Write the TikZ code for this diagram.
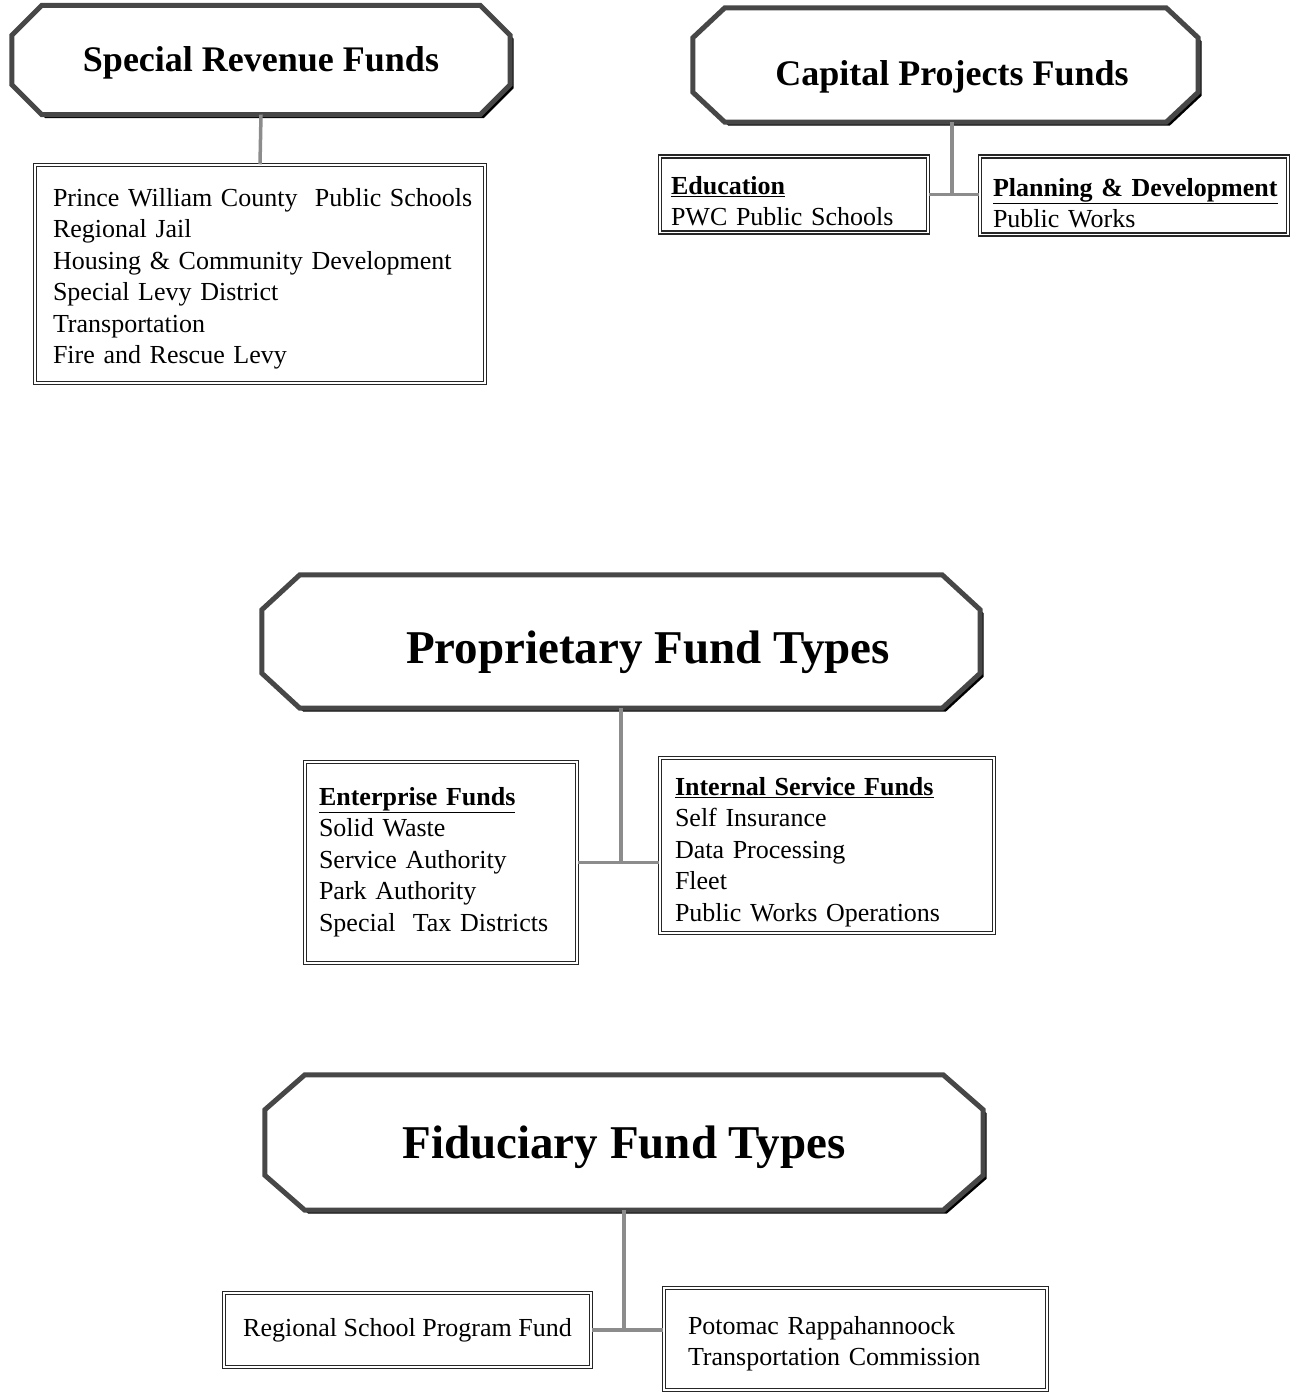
\documentclass[tikz,border=0pt]{standalone}
\usepackage{fontspec}
\setmainfont{Liberation Serif}
\usetikzlibrary{calc,backgrounds}
\newcommand\drawocto[3]{%
 \begin{scope}[on background layer]
  \fill[black,transform canvas={shift={(3.5pt,-3.5pt)}}]
   ($(#1.north west)+(#2,0)$) -- ($(#1.north east)+(-#2,0)$) -- ($(#1.north east)+(0,#3)$) -- ($(#1.south east)+(0,-#3)$) -- ($(#1.south east)+(-#2,0)$) -- ($(#1.south west)+(#2,0)$) -- ($(#1.south west)+(0,-#3)$) -- ($(#1.north west)+(0,#3)$) -- cycle;
  \draw[octline]
   ($(#1.north west)+(#2,0)$) -- ($(#1.north east)+(-#2,0)$) -- ($(#1.north east)+(0,#3)$) -- ($(#1.south east)+(0,-#3)$) -- ($(#1.south east)+(-#2,0)$) -- ($(#1.south west)+(#2,0)$) -- ($(#1.south west)+(0,-#3)$) -- ($(#1.north west)+(0,#3)$) -- cycle;
 \end{scope}}
\tikzset{
 octline/.style={draw=black!72, line width=5pt, fill=white, line join=miter},
 titlenode/.style={inner sep=0pt, font=\fontsize{36}{40}\selectfont\bfseries, text depth=0pt},
 bigtitle/.style={inner sep=0pt, font=\fontsize{47}{52}\selectfont\bfseries, text depth=0pt},
 fundbox/.style={draw=black!85, line width=1.5pt, double=white, double distance=1.2pt,
   align=left, inner ysep=0pt, font=\fontsize{26}{31.5}\selectfont},
 conn/.style={draw=black!45, line width=3.5pt},
}
\begin{document}
\begin{tikzpicture}[x=1pt,y=-1pt]
\useasboundingbox (0,0) rectangle (1290,1393);

% Special Revenue Funds
\node[titlenode, text height=22pt, minimum width=498pt, minimum height=109pt] (srf) at (261,60) {Special Revenue Funds};
\drawocto{srf}{30}{30}
\node[fundbox, minimum height=218pt, inner xsep=18pt, text width=414pt, text height=28.5pt, text depth=164.5pt] (srb) at (260,274)
 {\mbox{Prince William County\ \ Public Schools}\\Regional Jail\\Housing \& Community Development\\Special Levy District\\Transportation\\Fire and Rescue Levy};
\draw[conn] (srf.south) -- (srb.north);

% Capital Projects Funds
\node[titlenode, text height=40pt, minimum width=505pt, minimum height=114pt] (cpf) at (945.5,65) {\hspace*{13pt}Capital Projects Funds};
\drawocto{cpf}{32}{30}
\node[fundbox, minimum height=75pt, inner xsep=11pt, text width=246pt, text height=37.5pt, text depth=38.5pt] (edu) at (794,194.5)
 {\underline{\textbf{Education}}\\PWC Public Schools};
\node[fundbox, minimum height=75pt, inner xsep=13pt, text width=282pt, text height=39.5pt, text depth=38.5pt] (plan) at (1134,195.5)
 {\mbox{\underline{\textbf{Planning \& Development}}}\\Public Works};
\draw[conn] ([xshift=6.5pt]cpf.south) -- ([xshift=6.5pt]cpf.south |- edu.east);
\draw[conn] (edu.east) -- (edu.east -| plan.west);

% Proprietary Fund Types
\node[bigtitle, text height=43pt, minimum width=718pt, minimum height=133pt] (pft) at (621,641.5) {\hspace*{54pt}Proprietary Fund Types};
\drawocto{pft}{38}{35}
\node[fundbox, minimum height=201pt, inner xsep=14pt, text width=244pt, text height=18pt, text depth=133pt] (ent) at (441,862.5)
 {\underline{\textbf{Enterprise Funds}}\\Solid Waste\\Service Authority\\Park Authority\\Special\ \ Tax Districts};
\node[fundbox, minimum height=175pt, inner xsep=15pt, text width=304pt, text height=32pt, text depth=133pt] (int) at (827,845.5)
 {\underline{\textbf{Internal Service Funds}}\\Self Insurance\\Data Processing\\Fleet\\Public Works Operations};
\draw[conn] (pft.south) -- (pft.south |- ent.east);
\draw[conn] (ent.east) -- (ent.east -| int.west);

% Fiduciary Fund Types
\node[bigtitle, text height=31pt, minimum width=718pt, minimum height=135pt] (fft) at (624,1142.5) {Fiduciary Fund Types};
\drawocto{fft}{40}{35}
\node[fundbox, align=center, minimum width=367pt, minimum height=74pt, inner xsep=0pt, text height=19pt, text depth=7pt] (rsp) at (407.5,1330)
 {Regional School Program Fund};
\node[fundbox, minimum height=102pt, inner xsep=24pt, text width=335pt, text height=28.5pt, text depth=38.5pt] (prtc) at (855.5,1339)
 {Potomac Rappahannoock\\Transportation Commission};
\draw[conn] (fft.south) -- (fft.south |- rsp.east);
\draw[conn] (rsp.east) -- (rsp.east -| prtc.west);
\end{tikzpicture}
\end{document}
